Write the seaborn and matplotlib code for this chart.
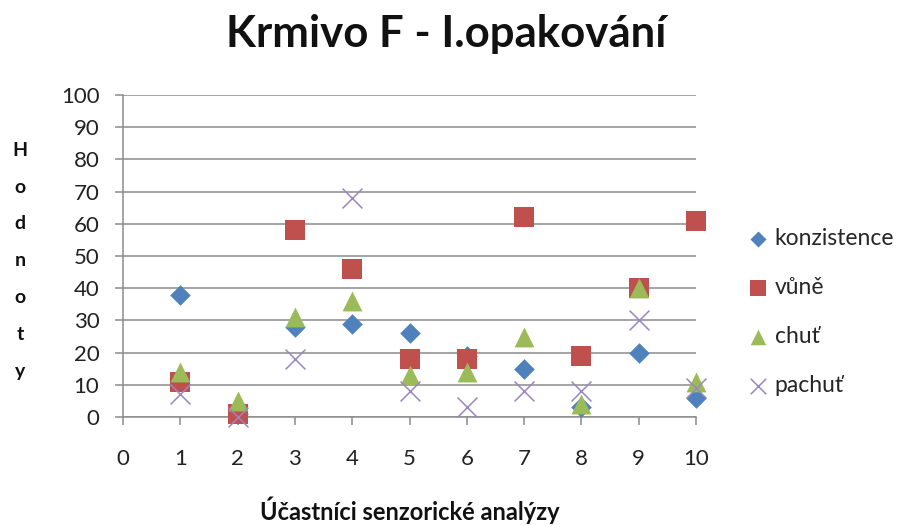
import matplotlib
matplotlib.use("Agg")
import matplotlib.pyplot as plt
import seaborn as sns
import pandas as pd

# Participants of the sensory analysis and their scores per attribute
participants = [1, 2, 3, 4, 5, 6, 7, 8, 9, 10]
konzistence = [38, 1, 28, 29, 26, 19, 15, 3, 20, 6]
vune = [11, 1, 58, 46, 18, 18, 62, 19, 40, 61]
chut = [14, 5, 31, 36, 13, 14, 25, 4, 40, 11]
pachut = [7, 0, 18, 68, 8, 3, 8, 8, 30, 9]

series_names = ["konzistence", "vůně", "chuť", "pachuť"]
y_ticks = [0, 10, 20, 30, 40, 50, 60, 70, 80, 90, 100]
x_ticks = [0, 1, 2, 3, 4, 5, 6, 7, 8, 9, 10]

title_text = "Krmivo F - I.opakování"
xlabel_text = "Účastníci senzorické analýzy"
ylabel_text = "Hodnoty"

df = pd.DataFrame({
    "ucastnik": participants * 4,
    "hodnota": konzistence + vune + chut + pachut,
    "vlastnost": sum([[n] * len(participants) for n in series_names], []),
})

sns.set_theme(style="white")
plt.rcParams["font.family"] = ["Lato", "DejaVu Sans"]

styles = {
    "konzistence": dict(marker="D", s=110, color="#4F81BD"),
    "vůně": dict(marker="s", s=205, color="#C0504D"),
    "chuť": dict(marker="^", s=205, color="#9BBB59"),
    "pachuť": dict(marker="x", s=205, color="#9A86C0"),
}

fig = plt.figure(figsize=(9.03, 5.25), dpi=100)
ax = fig.add_axes([123 / 903, 1 - 417 / 525, 573 / 903, 322 / 525])

for name in series_names:
    sub = df[df["vlastnost"] == name]
    st = styles[name]
    if st["marker"] == "x":
        sns.scatterplot(data=sub, x="ucastnik", y="hodnota", ax=ax,
                        marker="x", s=st["s"], color=st["color"],
                        linewidth=1.1, label=name, clip_on=False, zorder=5)
    else:
        sns.scatterplot(data=sub, x="ucastnik", y="hodnota", ax=ax,
                        marker=st["marker"], s=st["s"], color=st["color"],
                        edgecolor=st["color"], linewidth=0, label=name,
                        clip_on=False, zorder=4)

ax.set_xlim(0, 10)
ax.set_ylim(0, 100)
ax.set_xticks(x_ticks)
ax.set_yticks(y_ticks)
ax.set_xticklabels([str(t) for t in x_ticks], fontsize=16, color="#222222")
ax.set_yticklabels([str(t) for t in y_ticks], fontsize=16, color="#222222")

ax.grid(axis="y", color="#8C8C8C", linewidth=1.1)
ax.grid(axis="x", visible=False)
ax.set_axisbelow(True)
for side in ["top", "right"]:
    ax.spines[side].set_visible(False)
for side in ["left", "bottom"]:
    ax.spines[side].set_color("#8C8C8C")
    ax.spines[side].set_linewidth(1.1)
ax.tick_params(axis="both", which="major", direction="out", length=6,
               width=1.1, color="#8C8C8C", left=True, bottom=True)
ax.tick_params(axis="y", pad=11)
ax.tick_params(axis="x", pad=17)

ax.set_xlabel(xlabel_text, fontsize=17, fontweight="bold", color="#111111")
ax.xaxis.label.set_va("center")
ax.xaxis.set_label_coords(0.5, -93 / 322)
ax.set_ylabel("\n".join(ylabel_text), fontsize=14, fontweight="bold",
              rotation=0, linespacing=2.42, va="center", ha="center",
              color="#111111")
ax.yaxis.set_label_coords(-0.18, 0.485)

fig.suptitle(title_text, x=446 / 903, y=1 - 34 / 525, va="center",
             fontsize=31.5, fontweight="bold", color="#111111")

if ax.legend_:
    ax.legend_.remove()
handles, labels = ax.get_legend_handles_labels()
leg = fig.legend(handles, labels, loc="center left",
                 bbox_to_anchor=(731 / 903, 1 - 312 / 525), frameon=False,
                 fontsize=16.5, labelspacing=1.22, handlelength=0.6,
                 handletextpad=0.4, markerscale=0.78)

fig.savefig("out.png", dpi=100)
